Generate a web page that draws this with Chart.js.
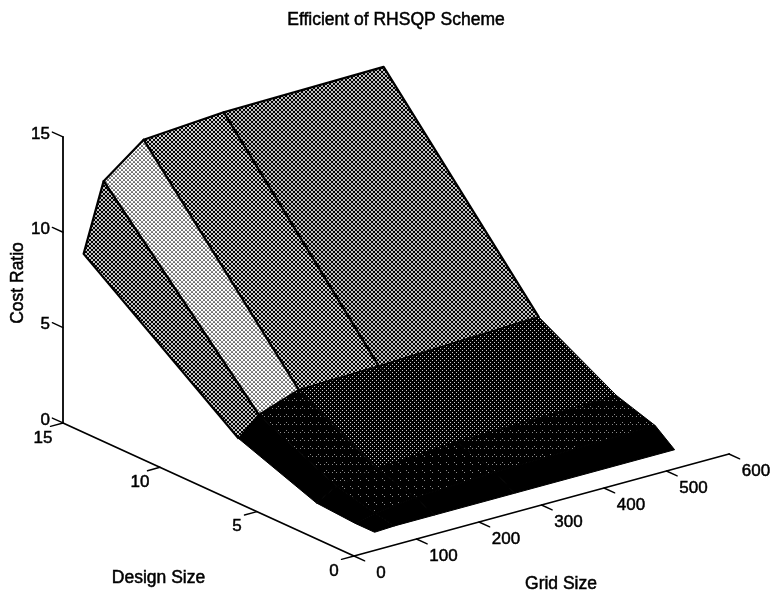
<!DOCTYPE html>
<html><head><meta charset="utf-8">
<script src="https://cdn.jsdelivr.net/npm/chart.js@4"></script>
<style>html,body{margin:0;padding:0;background:#fff}canvas{display:block}</style>
</head><body><canvas id="c" width="773" height="597"></canvas>
<script>
const gridSizes = [33, 65, 129, 257, 513];
const designSizes = [0, 1, 3, 7, 15];
const costAtDesign0 = [0.95, 1.0, 1.0, 1.0, 1.0];
const costAtDesign1 = [0.95, 1.2, 1.45, 1.65, 1.8];
const costAtDesign3 = [1.09, 1.7, 2.07, 2.3, 2.45];
const costAtDesign7 = [2.6, 3.56, 4.3, 4.4, 4.7];
const costAtDesign15 = [8.57, 12.1, 13.7, 14.0, 14.1];
const costRatio = [costAtDesign0, costAtDesign1, costAtDesign3, costAtDesign7, costAtDesign15];
const gridTicks = [0, 100, 200, 300, 400, 500, 600];
const designTicks = [0, 5, 10, 15];
const costTicks = [0, 5, 10, 15];
// white fraction of the halftone of each facet, [design band][grid band]
const shadeDesign0to1 = [0, 0, 0, 0];
const shadeDesign1to3 = [0, 0.032, 0.032, 0.047];
const shadeDesign3to7 = [0, 0.047, 0.125, 0.125];
const shadeDesign7to15 = [0.42, 0.72, 0.45, 0.38];
const shades = [shadeDesign0to1, shadeDesign1to3, shadeDesign3to7, shadeDesign7to15];

// oblique projection of (grid, design, cost) on the page
const project = (g, d, z) => ({
  x: 354 + 0.625 * g - 19.4 * d,
  y: 556 - 0.17 * g - 8.87 * d - 19.07 * z
});

// the order in which the dots of a sparse halftone are switched on
const sparseDots = [[0,0],[6,6],[4,0],[2,6],[2,2],[4,4],[6,2],[0,4]];

function halftone(white) {
  const t = document.createElement('canvas');
  const c = t.getContext('2d');
  if (white <= 0.13) {
    t.width = 8; t.height = 8;
    c.fillStyle = '#000'; c.fillRect(0, 0, 8, 8);
    c.fillStyle = white < 0.06 ? '#888' : '#ccc';
    const n = Math.round(white * 64);
    sparseDots.slice(0, n).forEach(([x, y]) => c.fillRect(x, y, 1, 1));
  } else {
    const S = 4;
    t.width = S; t.height = S;
    const light = white > 0.5;
    c.fillStyle = light ? '#fff' : '#000';
    c.fillRect(0, 0, S, S);
    c.fillStyle = light ? '#000' : '#fff';
    const frac = light ? 1 - white : white;
    const r = Math.sqrt(frac * S * S / (2 * Math.PI));
    [[0,0],[S,0],[0,S],[S,S],[S/2,S/2]].forEach(([x,y]) => {
      c.beginPath(); c.arc(x, y, r, 0, Math.PI * 2); c.fill();
    });
  }
  return document.getElementById('c').getContext('2d').createPattern(t, 'repeat');
}

const datasets = [];
const line = (pts, w) => datasets.push({
  data: pts, showLine: true, borderColor: '#000', borderWidth: w, pointRadius: 0,
  tension: 0, fill: false, borderCapStyle: 'round', borderJoinStyle: 'round'
});

// facets: nearest first, since earlier datasets paint on top
for (let i = 0; i < designSizes.length - 1; i++) {
  for (let j = 0; j < gridSizes.length - 1; j++) {
    const corner = (a, b) => project(gridSizes[b], designSizes[a], costRatio[a][b]);
    const poly = [corner(i, j), corner(i, j + 1), corner(i + 1, j + 1), corner(i + 1, j), corner(i, j)];
    datasets.push({
      data: poly, showLine: true, pointRadius: 0, tension: 0,
      borderColor: '#000', borderWidth: i === 3 ? 2.2 : 1, borderJoinStyle: 'round',
      fill: 'shape', backgroundColor: halftone(shades[i][j])
    });
  }
}

// axes
const G0 = gridTicks[0], G1 = gridTicks[gridTicks.length - 1];
const D0 = designTicks[0], D1 = designTicks[designTicks.length - 1];
const Z1 = costTicks[costTicks.length - 1];
line([project(G0, D0, 0), project(G1, D0, 0)], 1.8);
line([project(G0, D0, 0), project(G0, D1, 0)], 1.8);
line([project(G0, D1, 0), project(G0, D1, Z1)], 1.8);
gridTicks.forEach(g => line([project(g, D0, 0), project(g, D0 - 0.55, 0)], 1.4));
designTicks.forEach(d => line([project(G0, d, 0), project(G0 - 20, d, 0)], 1.4));
costTicks.forEach(z => line([project(G0, D1, z), project(G0, D1 + 0.55, z)], 1.4));

const FONT = '"Liberation Sans", Arial, sans-serif';
const labels = {
  id: 'labels',
  afterDatasetsDraw(chart) {
    const { ctx, scales: { x, y } } = chart;
    const put = (txt, p, dx, dy, align, size, rot) => {
      ctx.save();
      ctx.translate(x.getPixelForValue(p.x) + dx, y.getPixelForValue(p.y) + dy);
      if (rot) ctx.rotate(rot);
      ctx.font = size + 'px ' + FONT;
      ctx.textAlign = align; ctx.textBaseline = 'middle';
      ctx.fillStyle = '#000'; ctx.strokeStyle = '#000'; ctx.lineWidth = 0.5;
      ctx.fillText(txt, 0, 0); ctx.strokeText(txt, 0, 0);
      ctx.restore();
    };
    gridTicks.forEach(g => put(String(g), project(g, D0, 0), 27, 17, 'center', 17));
    designTicks.forEach(d => put(String(d), project(G0, d, 0), -20, 15, 'center', 17));
    costTicks.forEach(z => put(String(z), project(G0, D1, z), -13, -3, 'right', 17));
    put('Efficient of RHSQP Scheme', { x: 396, y: 20 }, 0, 0, 'center', 17.5);
    put('Cost Ratio', { x: 18, y: 283 }, 0, 0, 'center', 17.5, -Math.PI / 2);
    put('Design Size', { x: 158.5, y: 578 }, 0, 0, 'center', 17.5);
    put('Grid Size', { x: 561, y: 584 }, 0, 0, 'center', 17.5);
  }
};

new Chart(document.getElementById('c'), {
  type: 'scatter',
  data: { datasets },
  plugins: [labels],
  options: {
    responsive: false, animation: false, events: [],
    layout: { padding: 0 },
    plugins: { legend: { display: false }, tooltip: { enabled: false } },
    scales: {
      x: { type: 'linear', min: 0, max: 773, display: false },
      y: { type: 'linear', min: 0, max: 597, reverse: true, display: false }
    }
  }
});
</script></body></html>
